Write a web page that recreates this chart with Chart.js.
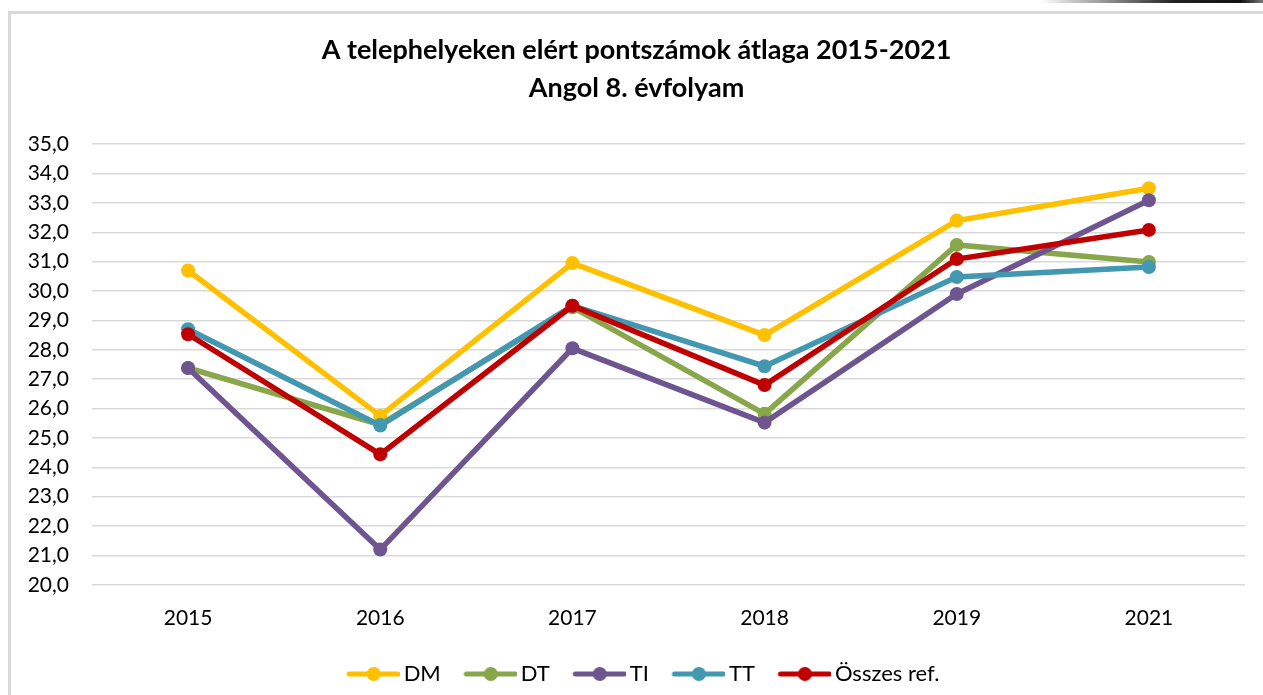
<!DOCTYPE html>
<html lang="hu">
<head>
<meta charset="utf-8">
<title>Angol 8. évfolyam</title>
<script src="https://cdn.jsdelivr.net/npm/chart.js@4"></script>
<style>
  html, body { margin: 0; padding: 0; background: #fff; overflow: hidden; }
  #frame {
    position: absolute; left: 8px; top: 11px; width: 1300px; height: 720px;
    border-left: 3px solid #d9d9d9; border-top: 3px solid #d9d9d9;
  }
  #shade {
    position: absolute; left: 1040px; top: 0; width: 223px; height: 3px;
    background: linear-gradient(to right, rgba(0,0,0,0), #222 60%, #111 90%, #777);
  }
  #wrap { position: absolute; left: 0; top: 0; width: 1263px; height: 695px; }
</style>
</head>
<body>
<div id="frame"></div>
<div id="shade"></div>
<div id="wrap"><canvas id="atlag"></canvas></div>
<script>
var years = ['2015', '2016', '2017', '2018', '2019', '2021'];

var dm = [30.70, 25.75, 30.95, 28.50, 32.40, 33.50];
var dt = [27.38, 25.45, 29.45, 25.82, 31.57, 30.99];
var ti = [27.38, 21.20, 28.05, 25.52, 29.90, 33.09];
var tt = [28.70, 25.42, 29.50, 27.44, 30.48, 30.82];
var osszes = [28.53, 24.44, 29.50, 26.80, 31.09, 32.08];

var yTicks = { min: 20, max: 35, step: 1 };

var colors = {
  dm: '#FFC000',
  dt: '#88A64A',
  ti: '#6E5590',
  tt: '#4198B0',
  osszes: '#C00000'
};

Chart.defaults.font.family = 'Lato, "Open Sans", sans-serif';
Chart.defaults.color = '#000';

// legend marker: short thick line with a dot in the middle,
// pushed to the right side of the image so it sits close to its text
function legendMark(color){
  var c = document.createElement('canvas');
  c.width = 74;
  c.height = 16;
  var ctx = c.getContext('2d');
  ctx.strokeStyle = color;
  ctx.lineWidth = 5;
  ctx.lineCap = 'round';
  ctx.beginPath();
  ctx.moveTo(23, 8);
  ctx.lineTo(72, 8);
  ctx.stroke();
  ctx.fillStyle = color;
  ctx.beginPath();
  ctx.arc(47.5, 8, 7, 0, Math.PI * 2);
  ctx.fill();
  return c;
}

function series(label, values, color, order){
  return {
    label: label,
    data: values,
    borderColor: color,
    backgroundColor: color,
    borderWidth: 5.5,
    pointRadius: 7,
    pointHoverRadius: 7,
    pointBorderWidth: 0,
    pointBackgroundColor: color,
    tension: 0,
    order: order,
    mark: legendMark(color)
  };
}

function createChart(){
  var element = document.getElementById('atlag').getContext('2d');

  var chart = new Chart(element, {
    type: 'line',
    data: {
      labels: years,
      datasets: [
        series('DM', dm, colors.dm, 5),
        series('DT', dt, colors.dt, 4),
        series('TI', ti, colors.ti, 3),
        series('TT', tt, colors.tt, 2),
        series('Összes ref.', osszes, colors.osszes, 1)
      ]
    },
    options: {
      responsive: false,
      animation: false,
      layout: { padding: { left: 28, right: 18, top: 0, bottom: 0 } },
      plugins: {
        title: {
          display: true,
          text: ['A telephelyeken elért pontszámok átlaga 2015-2021', 'Angol 8. évfolyam'],
          font: { size: 27, weight: 'bold', lineHeight: 1.41 },
          color: '#000',
          padding: { top: 31, bottom: 37 }
        },
        legend: {
          position: 'bottom',
          labels: {
            usePointStyle: true,
            pointStyleWidth: 59,
            padding: 10,
            font: { size: 22 },
            color: '#000',
            sort: function(a, b){ return a.datasetIndex - b.datasetIndex; },
            generateLabels: function(ch){
              var items = Chart.defaults.plugins.legend.labels.generateLabels(ch);
              items.forEach(function(it){
                it.pointStyle = ch.data.datasets[it.datasetIndex].mark;
              });
              return items;
            }
          }
        },
        tooltip: { enabled: false }
      },
      scales: {
        x: {
          offset: true,
          grid: { display: false, drawTicks: false },
          border: { display: false },
          ticks: { font: { size: 21 }, padding: 21, color: '#000' },
          afterFit: function(s){ s.height += 1; }
        },
        y: {
          min: yTicks.min,
          max: yTicks.max,
          grid: { color: '#d9d9d9', lineWidth: 1.5, drawTicks: false },
          border: { display: false },
          ticks: {
            stepSize: yTicks.step,
            padding: 23,
            font: { size: 21 },
            color: '#000',
            callback: function(v){ return v.toFixed(1).replace('.', ','); }
          },
          afterFit: function(s){ s.width = 64; }
        }
      }
    }
  });
}

var cv = document.getElementById('atlag');
cv.width = 1263;
cv.height = 695;
createChart();
</script>
</body>
</html>
